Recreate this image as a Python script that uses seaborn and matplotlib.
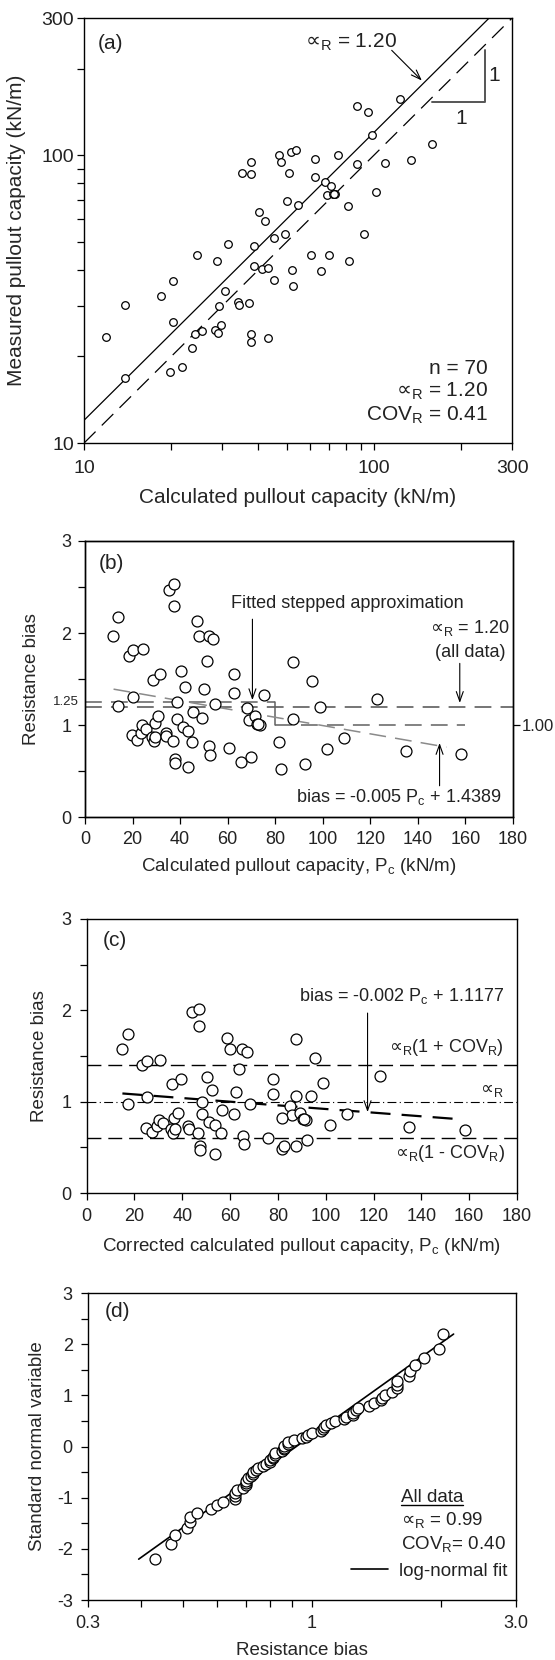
import numpy as np
import pandas as pd
import matplotlib
matplotlib.use("Agg")
import matplotlib.pyplot as plt
from matplotlib.ticker import FixedLocator, NullFormatter, FixedFormatter
from matplotlib.lines import Line2D
import seaborn as sns

# ---------------- data ----------------
# panel (a): calculated vs measured pullout capacity (kN/m)
calc_a = [11.9, 13.9, 13.9, 18.5, 20.2, 20.2, 19.8, 21.8, 23.6, 24.1, 25.5, 24.5, 28.7, 28.3,
          29.0, 29.3, 29.6, 30.6, 31.4, 34.0, 34.2, 35.2, 37.1, 37.6, 37.6, 37.8, 37.8, 38.6,
          38.6, 40.2, 41.1, 42.0, 43.1, 43.1, 45.1, 45.4, 47.0, 48.0, 49.4, 50.1, 51.1, 52.0,
          52.3, 52.7, 53.8, 54.7, 60.7, 62.5, 62.5, 65.5, 68.0, 68.8, 71.3, 72.3, 73.4, 69.9,
          75.1, 81.7, 82.4, 87.4, 87.4, 92.3, 95.4, 98.7, 101.6, 109.0, 122.7, 134.8, 158.3, 72.8]
meas_a = [23.4, 30.2, 16.8, 32.4, 36.5, 26.4, 17.7, 18.4, 21.4, 24.0, 24.5, 44.9, 42.8, 24.7,
          24.1, 29.9, 25.7, 33.7, 49.1, 30.9, 30.1, 87.1, 30.8, 95.1, 86.2, 24.0, 22.4, 48.3,
          41.2, 63.8, 40.3, 59.3, 40.7, 23.1, 36.9, 51.7, 100.0, 94.6, 53.5, 69.6, 87.1, 102.7,
          40.1, 35.2, 104.1, 67.4, 45.2, 97.4, 84.1, 39.5, 81.0, 73.1, 78.5, 73.4, 73.4, 45.2,
          100.0, 66.7, 42.8, 147.9, 93.1, 53.5, 141.3, 118.0, 74.8, 93.8, 157.2, 96.6, 109.8, 73.4]
one_to_one_x = [10, 300]
one_to_one_y = [10, 300]
mean_line_x = [10, 250]
mean_line_y = [12, 300]
slope_tri_x = [159, 241.5, 241.5]
slope_tri_y = [153, 153, 232]
a_major = [10, 100, 300]
a_minor = [20, 30, 40, 50, 60, 70, 80, 90, 200]

# panel (b): resistance bias vs calculated capacity
pc_b = calc_a
bias_b = [1.97, 2.17, 1.21, 1.75, 1.81, 1.31, 0.89, 0.84, 0.91, 1.00, 0.96, 1.83, 1.49, 0.87,
          0.83, 1.02, 0.87, 1.10, 1.56, 0.91, 0.88, 2.47, 0.83, 2.53, 2.29, 0.635, 0.59, 1.25,
          1.07, 1.59, 0.98, 1.41, 0.94, 0.54, 0.82, 1.14, 2.13, 1.97, 1.08, 1.39, 1.70, 1.97,
          0.77, 0.67, 1.93, 1.23, 0.745, 1.56, 1.35, 0.60, 1.19, 1.06, 1.10, 1.015, 1.00, 0.65,
          1.33, 0.82, 0.52, 1.69, 1.065, 0.58, 1.48, 1.20, 0.74, 0.86, 1.28, 0.72, 0.69, 1.01]
mean_bias_b = 1.20
step_x = [0, 80, 80, 160]
step_y = [1.25, 1.25, 1.0, 1.0]
reg_b_x = [12, 152]
reg_b_y = [1.39, 0.76]

# panel (c): corrected
pc_c = [14.9, 17.4, 17.4, 23.1, 25.3, 25.3, 24.8, 27.3, 29.5, 30.1, 31.9, 30.6, 35.9, 35.4,
        36.3, 36.6, 37.0, 38.3, 39.3, 42.5, 42.8, 44.0, 46.4, 47.0, 47.0, 47.3, 47.3, 48.3,
        48.3, 50.3, 51.4, 52.5, 53.9, 53.9, 56.4, 56.8, 58.8, 60.0, 61.8, 62.6, 63.9, 65.0,
        65.4, 65.9, 67.3, 68.4, 75.9, 78.1, 78.1, 81.9, 85.0, 86.0, 89.1, 90.4, 91.8, 87.4,
        93.9, 81.7, 82.4, 87.4, 87.4, 92.3, 95.4, 98.7, 101.6, 109.0, 122.7, 134.8, 158.3, 91.0]
bias_c = [1.58, 1.74, 0.97, 1.40, 1.45, 1.05, 0.71, 0.67, 0.73, 0.80, 0.77, 1.46, 1.19, 0.70,
          0.66, 0.82, 0.70, 0.88, 1.25, 0.73, 0.70, 1.98, 0.66, 2.02, 1.83, 0.51, 0.47, 1.00,
          0.86, 1.27, 0.78, 1.13, 0.75, 0.43, 0.66, 0.91, 1.70, 1.58, 0.86, 1.11, 1.36, 1.58,
          0.62, 0.54, 1.54, 0.98, 0.60, 1.25, 1.08, 0.48, 0.95, 0.85, 0.88, 0.81, 0.80, 0.52,
          1.06, 0.82, 0.52, 1.69, 1.065, 0.58, 1.48, 1.20, 0.74, 0.86, 1.28, 0.72, 0.69, 0.81]
upper_c = 1.40
mean_c = 1.00
lower_c = 0.60
reg_c_x = [15, 155]
reg_c_y = [1.09, 0.81]

# panel (d): probability plot
bias_d = [0.43, 0.47, 0.48, 0.51, 0.52, 0.52, 0.54, 0.58, 0.60, 0.62,
          0.66, 0.66, 0.66, 0.67, 0.69, 0.70, 0.70, 0.70, 0.71, 0.72,
          0.73, 0.73, 0.74, 0.75, 0.77, 0.78, 0.80, 0.80, 0.81, 0.81,
          0.82, 0.82, 0.85, 0.86, 0.86, 0.86, 0.88, 0.88, 0.91, 0.95,
          0.97, 0.98, 1.00, 1.05, 1.06, 1.07, 1.08, 1.11, 1.13, 1.19,
          1.20, 1.25, 1.25, 1.27, 1.28, 1.36, 1.40, 1.45, 1.46, 1.48,
          1.54, 1.58, 1.58, 1.58, 1.69, 1.70, 1.74, 1.83, 1.98, 2.02]
z_d = [-2.195, -1.909, -1.725, -1.586, -1.473, -1.375, -1.290, -1.212, -1.141, -1.077,
       -1.015, -0.958, -0.904, -0.852, -0.802, -0.755, -0.708, -0.663, -0.620, -0.578,
       -0.536, -0.496, -0.457, -0.418, -0.380, -0.342, -0.305, -0.268, -0.231, -0.195,
       -0.160, -0.124, -0.088, -0.053, -0.018, 0.018, 0.053, 0.088, 0.124, 0.160,
       0.195, 0.231, 0.268, 0.305, 0.342, 0.380, 0.418, 0.457, 0.496, 0.536,
       0.578, 0.620, 0.663, 0.708, 0.755, 0.802, 0.852, 0.904, 0.958, 1.015,
       1.077, 1.141, 1.212, 1.290, 1.375, 1.473, 1.586, 1.725, 1.909, 2.195]
fit_x = [0.394, 2.144]
fit_z = [-2.2, 2.2]
d_major = [0.3, 1, 3.0]
d_major_labels = ["0.3", "1", "3.0"]
d_minor = [0.4, 0.5, 0.6, 0.7, 0.8, 0.9, 2]

ALPHA = "$\\mathrm{\u221d}_R$"

# ---------------- style ----------------
sns.set_style("ticks")
plt.rcParams["font.family"] = ["Liberation Sans", "DejaVu Sans"]
plt.rcParams["mathtext.default"] = "regular"
plt.rcParams["axes.unicode_minus"] = False
plt.rcParams["axes.edgecolor"] = "black"
plt.rcParams["axes.linewidth"] = 1.0
plt.rcParams["xtick.color"] = "black"
plt.rcParams["ytick.color"] = "black"
plt.rcParams["text.color"] = "#222222"

fig = plt.figure(figsize=(5.55, 16.6), dpi=100)
axA = fig.add_axes([0.1514, 0.7331, 0.7712, 0.2560])
axB = fig.add_axes([0.1532, 0.5078, 0.7712, 0.1663])
axC = fig.add_axes([0.1559, 0.2813, 0.7757, 0.1651])
axD = fig.add_axes([0.1586, 0.0361, 0.7712, 0.1849])

arrow = dict(arrowstyle="->,head_length=0.7,head_width=0.25", lw=0.8, color="black",
             shrinkA=0, shrinkB=0)


def ticks(ax, size, pad):
    ax.tick_params(which="both", direction="out", length=5, width=0.9, labelsize=size,
                   pad=pad, colors="black", labelcolor="#222222")
    for s in ax.spines.values():
        s.set_color("black")
        s.set_linewidth(1.0)


# ---------------- (a) ----------------
axA.set_xscale("log")
axA.set_yscale("log")
axA.plot(one_to_one_x, one_to_one_y, color="black", lw=0.9, ls=(0, (13, 7)))
axA.plot(mean_line_x, mean_line_y, color="black", lw=0.9)
axA.plot(slope_tri_x, slope_tri_y, color="#555555", lw=1.4)
sns.scatterplot(x=calc_a, y=meas_a, ax=axA, s=30, color="white", edgecolor="black",
                linewidth=0.9, zorder=3)
axA.set_xlim(10, 300)
axA.set_ylim(10, 300)
for axis in (axA.xaxis, axA.yaxis):
    axis.set_major_locator(FixedLocator(a_major))
    axis.set_major_formatter(FixedFormatter([str(v) for v in a_major]))
    axis.set_minor_locator(FixedLocator(a_minor))
    axis.set_minor_formatter(NullFormatter())
ticks(axA, 14, 2)
axA.tick_params(axis="x", pad=7)
axA.set_xlabel("Calculated pullout capacity (kN/m)", fontsize=15)
axA.set_ylabel("Measured pullout capacity (kN/m)", fontsize=15)
axA.xaxis.set_label_coords(0.5, -0.105)
axA.yaxis.set_label_coords(-0.135, 0.5)
axA.text(0.032, 0.94, "(a)", transform=axA.transAxes, fontsize=15, ha="left", va="center")
axA.text(0.624, 0.944, ALPHA + " = 1.20", transform=axA.transAxes, fontsize=15,
         ha="center", va="center")
axA.annotate("", xy=(146.5, 182), xytext=(115.3, 231.8), arrowprops=arrow)
axA.text(260.6, 189.8, "1", fontsize=15, ha="center", va="center")
axA.text(199.5, 134, "1", fontsize=15, ha="center", va="center")
axA.text(0.943, 0.176, "n = 70", transform=axA.transAxes, fontsize=15, ha="right", va="center")
axA.text(0.943, 0.121, ALPHA + " = 1.20", transform=axA.transAxes, fontsize=15, ha="right", va="center")
axA.text(0.943, 0.066, "COV$_R$ = 0.41", transform=axA.transAxes, fontsize=15, ha="right", va="center")

# ---------------- (b) ----------------
axB.axhline(mean_bias_b, color="#505050", lw=1.1, ls=(0, (11, 6)))
axB.plot(step_x[:2], step_y[:2], color="#606060", lw=1.1, ls=(0, (11, 6)))
axB.plot(step_x[1:3], step_y[1:3], color="#606060", lw=1.1)
axB.plot(step_x[2:], step_y[2:], color="#606060", lw=1.1, ls=(0, (11, 6)))
axB.plot(reg_b_x, reg_b_y, color="#8a8a8a", lw=1.1, ls=(0, (11, 6)))
sns.scatterplot(x=pc_b, y=bias_b, ax=axB, s=62, color="white", edgecolor="black",
                linewidth=0.9, zorder=3)
axB.set_xlim(0, 180)
axB.set_ylim(0, 3)
axB.set_xticks(range(0, 181, 20))
axB.set_yticks([0, 1, 2, 3])
axB.set_yticks([0.5, 1.5, 2.5], minor=True)
ticks(axB, 13, 5)
axB.set_xlabel("Calculated pullout capacity, $P_c$ (kN/m)", fontsize=13.5)
axB.set_ylabel("Resistance bias", fontsize=13.5)
axB.xaxis.set_label_coords(0.5, -0.14)
axB.yaxis.set_label_coords(-0.105, 0.5)
axB2 = axB.twinx()
axB2.set_ylim(0, 3)
axB2.set_yticks([1.0])
axB2.set_yticklabels(["1.00"])
ticks(axB2, 12, 1.5)
axB.text(0.033, 0.919, "(b)", transform=axB.transAxes, fontsize=15, ha="left", va="center")
axB.text(-0.015, 1.245, "1.25", transform=axB.get_yaxis_transform(), fontsize=9.5,
         ha="right", va="center")
axB.text(110.2, 2.32, "Fitted stepped approximation", fontsize=13, ha="center", va="center")
axB.annotate("", xy=(70.4, 1.27), xytext=(70.4, 2.15), arrowprops=arrow)
axB.text(161.8, 2.05, ALPHA + " = 1.20", fontsize=13, ha="center", va="center")
axB.text(161.8, 1.79, "(all data)", fontsize=13, ha="center", va="center")
axB.annotate("", xy=(157.6, 1.24), xytext=(157.6, 1.67), arrowprops=arrow)
axB.text(132, 0.218, "bias = -0.005 $P_c$ + 1.4389", fontsize=13, ha="center", va="center")
axB.annotate("", xy=(149.1, 0.805), xytext=(149.1, 0.34), arrowprops=arrow)

# ---------------- (c) ----------------
axC.axhline(upper_c, color="black", lw=1.0, ls=(0, (10, 5)))
axC.axhline(lower_c, color="black", lw=1.0, ls=(0, (10, 5)))
axC.axhline(mean_c, color="black", lw=0.8, ls=(0, (8, 3, 1, 3)))
axC.plot(reg_c_x, reg_c_y, color="black", lw=1.6, ls=(0, (9, 5)))
sns.scatterplot(x=pc_c, y=bias_c, ax=axC, s=62, color="white", edgecolor="black",
                linewidth=0.9, zorder=3)
axC.set_xlim(0, 180)
axC.set_ylim(0, 3)
axC.set_xticks(range(0, 181, 20))
axC.set_yticks([0, 1, 2, 3])
axC.set_yticks([0.5, 1.5, 2.5], minor=True)
ticks(axC, 13, 6)
axC.set_xlabel("Corrected calculated pullout capacity, $P_c$ (kN/m)", fontsize=13.5)
axC.set_ylabel("Resistance bias", fontsize=13.5)
axC.xaxis.set_label_coords(0.5, -0.155)
axC.yaxis.set_label_coords(-0.09, 0.5)
axC.text(0.038, 0.923, "(c)", transform=axC.transAxes, fontsize=15, ha="left", va="center")
axC.text(131.6, 2.16, "bias = -0.002 $P_c$ + 1.1177", fontsize=13, ha="center", va="center")
axC.annotate("", xy=(117.5, 0.886), xytext=(117.5, 1.97), arrowprops=arrow)
axC.text(174.4, 1.59, ALPHA + "(1 + COV$_R$)", fontsize=13, ha="right", va="center")
axC.text(174.4, 1.12, ALPHA, fontsize=13, ha="right", va="center")
axC.text(175, 0.43, ALPHA + "(1 - COV$_R$)", fontsize=13, ha="right", va="center")

# ---------------- (d) ----------------
axD.set_xscale("log")
axD.plot(fit_x, fit_z, color="black", lw=1.2, label="log-normal fit")
sns.scatterplot(x=bias_d, y=z_d, ax=axD, s=62, color="white", edgecolor="black",
                linewidth=0.9, zorder=3)
axD.set_xlim(0.3, 3.0)
axD.set_ylim(-3, 3)
axD.xaxis.set_major_locator(FixedLocator(d_major))
axD.xaxis.set_major_formatter(FixedFormatter(d_major_labels))
axD.xaxis.set_minor_locator(FixedLocator(d_minor))
axD.xaxis.set_minor_formatter(NullFormatter())
axD.set_yticks([-3, -2, -1, 0, 1, 2, 3])
axD.set_yticks([-2.5, -1.5, -0.5, 0.5, 1.5, 2.5], minor=True)
ticks(axD, 13, 6)
axD.set_xlabel("Resistance bias", fontsize=13.5)
axD.set_ylabel("Standard normal variable", fontsize=13.5)
axD.xaxis.set_label_coords(0.5, -0.135)
axD.yaxis.set_label_coords(-0.098, 0.5)
axD.text(0.039, 0.939, "(d)", transform=axD.transAxes, fontsize=15, ha="left", va="center")
t_all = axD.text(0.731, 0.335, "All data", transform=axD.transAxes, fontsize=13.5,
                 ha="left", va="center")
axD.text(0.731, 0.26, ALPHA + " = 0.99", transform=axD.transAxes, fontsize=13.5, ha="left", va="center")
axD.text(0.731, 0.183, "COV$_R$= 0.40", transform=axD.transAxes, fontsize=13.5, ha="left", va="center")
leg = axD.legend(loc="center left", bbox_to_anchor=(0.614, 0.094), frameon=False,
                 fontsize=13.5, handlelength=2.0, handletextpad=0.55, borderpad=0,
                 borderaxespad=0)
for txt in leg.get_texts():
    txt.set_color("#222222")

# underline "All data"
fig.canvas.draw()
bb = t_all.get_window_extent(renderer=fig.canvas.get_renderer())
inv = fig.transFigure.inverted()
(x0, y0), (x1, _) = inv.transform([(bb.x0, bb.y0 + 1), (bb.x1, bb.y0 + 1)])
fig.add_artist(Line2D([x0, x1], [y0, y0], transform=fig.transFigure, color="black", lw=1.0))

fig.savefig("out.png", dpi=100)
